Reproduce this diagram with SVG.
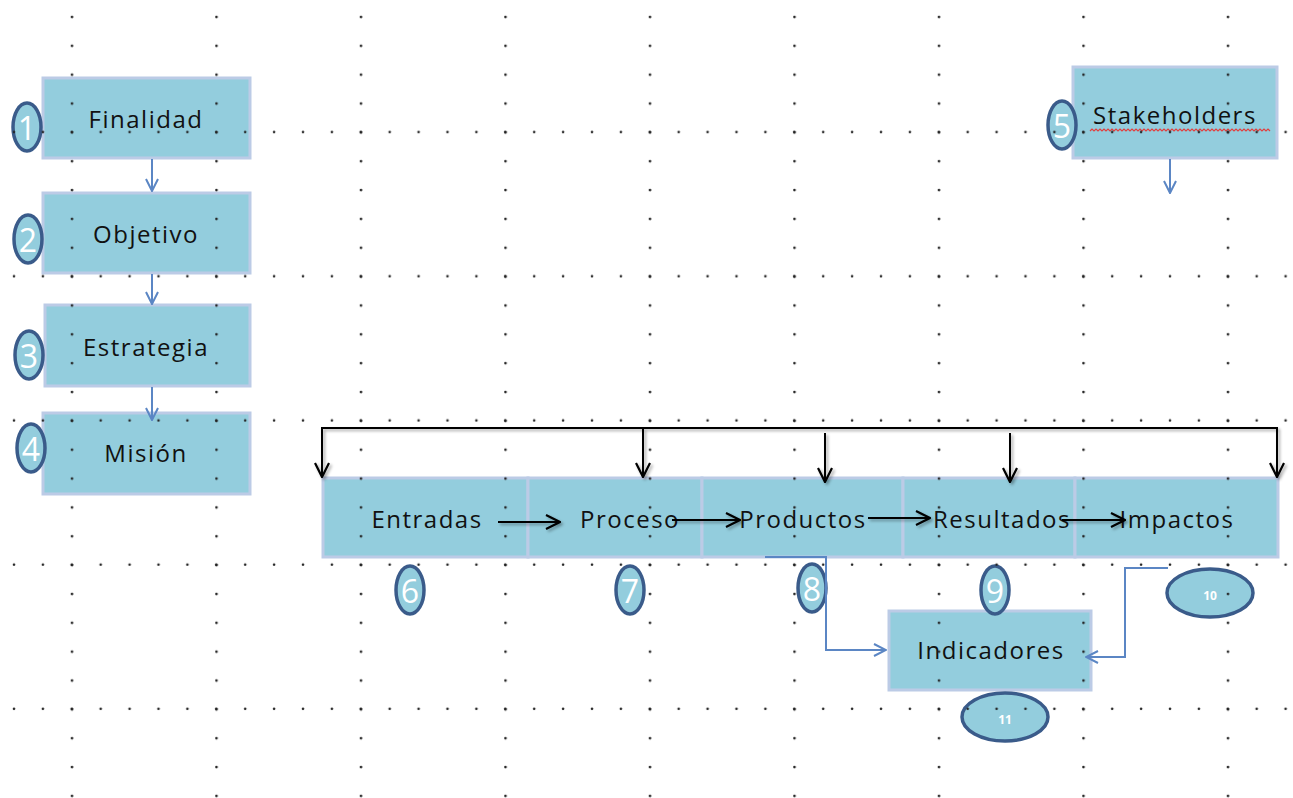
<svg xmlns="http://www.w3.org/2000/svg" width="1293" height="798" viewBox="0 0 1293 798">
  <style>
    .box { fill: #93cddd; stroke: #bccbe6; stroke-width: 3; }
    .lbl { font-family: "Open Sans", "Liberation Sans", sans-serif; font-size: 24px; letter-spacing: 1.5px; fill: #111; text-anchor: middle; dominant-baseline: central; }
    .num { fill: #93cddd; stroke: #3a5b8a; stroke-width: 3.5; }
    .numt { font-family: "Open Sans", "Liberation Sans", sans-serif; font-size: 32px; fill: #fff; text-anchor: middle; dominant-baseline: central; }
    .nums { font-family: "Open Sans", "Liberation Sans", sans-serif; font-size: 12px; font-weight: bold; fill: #fff; text-anchor: middle; dominant-baseline: central; }
    .blue { fill: none; stroke: #5b86c4; stroke-width: 2; }
    .black { fill: none; stroke: #000; stroke-width: 2; }
  </style>
  <defs>
    <marker id="ab" viewBox="0 0 14 14" markerWidth="14" markerHeight="14" refX="13" refY="7" orient="auto" markerUnits="userSpaceOnUse">
      <path d="M1,1 L13,7 L1,13" fill="none" stroke="#5b86c4" stroke-width="2"/>
    </marker>
    <marker id="ak" viewBox="0 0 16 16" markerWidth="16" markerHeight="16" refX="15" refY="8" orient="auto" markerUnits="userSpaceOnUse">
      <path d="M1,1 L15,8 L1,15" fill="none" stroke="#000" stroke-width="2.2"/>
    </marker>
    <filter id="sh" x="-20%" y="-20%" width="140%" height="140%">
      <feDropShadow dx="2" dy="2" stdDeviation="1.5" flood-color="#000" flood-opacity="0.35"/>
    </filter>
    <pattern id="colDots" patternUnits="userSpaceOnUse" x="0" y="0" width="144.5" height="28.85">
      <circle cx="72" cy="17" r="1.3" fill="#222"/>
    </pattern>
    <pattern id="rowDots" patternUnits="userSpaceOnUse" x="0" y="0" width="28.9" height="144.2">
      <circle cx="14" cy="132" r="1.3" fill="#222"/>
    </pattern>
  </defs>

  <rect width="1293" height="798" fill="#fff"/>

  <!-- left column -->
  <g id="finalidad">
    <rect class="box" x="43" y="78" width="207" height="80"/>
    <text class="lbl" x="146" y="118">Finalidad</text>
  </g>
  <g id="objetivo">
    <rect class="box" x="43" y="193" width="207" height="80"/>
    <text class="lbl" x="146" y="233">Objetivo</text>
  </g>
  <g id="estrategia">
    <rect class="box" x="45" y="305" width="205" height="81"/>
    <text class="lbl" x="146" y="346">Estrategia</text>
  </g>
  <g id="mision">
    <rect class="box" x="43" y="413" width="207" height="81"/>
    <text class="lbl" x="146" y="452">Misión</text>
  </g>

  <g id="stakeholders">
    <rect class="box" x="1073" y="67" width="204" height="91"/>
    <text class="lbl" x="1175" y="114">Stakeholders</text>
    <path d="M1090,131 l2,-2 l2,2 l2,-2 l2,2 l2,-2 l2,2 l2,-2 l2,2 l2,-2 l2,2 l2,-2 l2,2 l2,-2 l2,2 l2,-2 l2,2 l2,-2 l2,2 l2,-2 l2,2 l2,-2 l2,2 l2,-2 l2,2 l2,-2 l2,2 l2,-2 l2,2 l2,-2 l2,2 l2,-2 l2,2 l2,-2 l2,2 l2,-2 l2,2 l2,-2 l2,2 l2,-2 l2,2 l2,-2 l2,2 l2,-2 l2,2 l2,-2 l2,2 l2,-2 l2,2 l2,-2 l2,2 l2,-2 l2,2 l2,-2 l2,2 l2,-2 l2,2 l2,-2 l2,2 l2,-2 l2,2 l2,-2 l2,2 l2,-2 l2,2 l2,-2 l2,2 l2,-2 l2,2 l2,-2 l2,2 l2,-2 l2,2 l2,-2 l2,2 l2,-2 l2,2 l2,-2 l2,2 l2,-2 l2,2 l2,-2 l2,2 l2,-2 l2,2 l2,-2 l2,2 l2,-2 l2,2 l2,-2 l2,2" fill="none" stroke="#e04040" stroke-width="1.2"/>
  </g>

  <!-- process chain -->
  <g id="entradas">
    <rect class="box" x="323" y="478" width="205" height="79"/>
    <text class="lbl" x="427" y="518">Entradas</text>
  </g>
  <g id="proceso">
    <rect class="box" x="528" y="478" width="174" height="79"/>
    <text class="lbl" x="630" y="518">Proceso</text>
  </g>
  <g id="productos">
    <rect class="box" x="702" y="478" width="201" height="79"/>
    <text class="lbl" x="803" y="518">Productos</text>
  </g>
  <g id="resultados">
    <rect class="box" x="903" y="478" width="172" height="79"/>
    <text class="lbl" x="1002" y="518">Resultados</text>
  </g>
  <g id="impactos">
    <rect class="box" x="1075" y="478" width="203" height="79"/>
    <text class="lbl" x="1177" y="518">Impactos</text>
  </g>

  <g id="indicadores">
    <rect class="box" x="889" y="611" width="202" height="79"/>
    <text class="lbl" x="991" y="649">Indicadores</text>
  </g>

  <!-- numbered badges -->
  <g id="n1"><ellipse class="num" cx="27" cy="127" rx="14" ry="24"/><text class="numt" x="27" y="127">1</text></g>
  <g id="n2"><ellipse class="num" cx="28" cy="239" rx="14" ry="24"/><text class="numt" x="28" y="239">2</text></g>
  <g id="n3"><ellipse class="num" cx="29" cy="355" rx="14" ry="24"/><text class="numt" x="29" y="355">3</text></g>
  <g id="n4"><ellipse class="num" cx="31" cy="448" rx="14" ry="24"/><text class="numt" x="31" y="448">4</text></g>
  <g id="n5"><ellipse class="num" cx="1062" cy="125" rx="14" ry="24"/><text class="numt" x="1062" y="125">5</text></g>
  <g id="n6"><ellipse class="num" cx="410" cy="590" rx="14" ry="24"/><text class="numt" x="410" y="590">6</text></g>
  <g id="n7"><ellipse class="num" cx="630" cy="590" rx="14" ry="24"/><text class="numt" x="630" y="590">7</text></g>
  <g id="n8"><ellipse class="num" cx="812" cy="588" rx="14" ry="24"/><text class="numt" x="812" y="588">8</text></g>
  <g id="n9"><ellipse class="num" cx="995" cy="590" rx="14" ry="24"/><text class="numt" x="995" y="590">9</text></g>
  <g id="n10"><ellipse class="num" cx="1210" cy="593" rx="43" ry="24"/><text class="nums" x="1210" y="595">10</text></g>
  <g id="n11"><ellipse class="num" cx="1005" cy="717" rx="43" ry="24"/><text class="nums" x="1005" y="719">11</text></g>

  <!-- connectors -->
  <g id="connectors">
    <line class="blue" x1="152" y1="159" x2="152" y2="191" marker-end="url(#ab)"/>
    <line class="blue" x1="152" y1="274" x2="152" y2="304" marker-end="url(#ab)"/>
    <line class="blue" x1="152" y1="387" x2="152" y2="420" marker-end="url(#ab)"/>
    <line class="blue" x1="1170" y1="159" x2="1170" y2="193" marker-end="url(#ab)"/>

    <g filter="url(#sh)">
      <path class="black" d="M322,476 V428 H1277 V476"/>
      <line class="black" x1="322" y1="440" x2="322" y2="477" marker-end="url(#ak)"/>
      <line class="black" x1="1277" y1="440" x2="1277" y2="477" marker-end="url(#ak)"/>
      <line class="black" x1="643" y1="428" x2="643" y2="477" marker-end="url(#ak)"/>
      <line class="black" x1="825" y1="433" x2="825" y2="482" marker-end="url(#ak)"/>
      <line class="black" x1="1010" y1="433" x2="1010" y2="482" marker-end="url(#ak)"/>

      <line class="black" x1="498" y1="522" x2="560" y2="522" marker-end="url(#ak)"/>
      <line class="black" x1="672" y1="520" x2="740" y2="520" marker-end="url(#ak)"/>
      <line class="black" x1="868" y1="518" x2="930" y2="518" marker-end="url(#ak)"/>
      <line class="black" x1="1062" y1="520" x2="1125" y2="520" marker-end="url(#ak)"/>
    </g>

    <path class="blue" d="M765,557 H826 V650 H886" marker-end="url(#ab)"/>
    <path class="blue" d="M1168,568 H1125 V657 H1086" marker-end="url(#ab)"/>
  </g>

  <!-- layout grid -->
  <g id="grid">
    <rect x="0" y="0" width="1293" height="798" fill="url(#colDots)"/>
    <rect x="0" y="120" width="1293" height="600" fill="url(#rowDots)"/>
  </g>
</svg>
